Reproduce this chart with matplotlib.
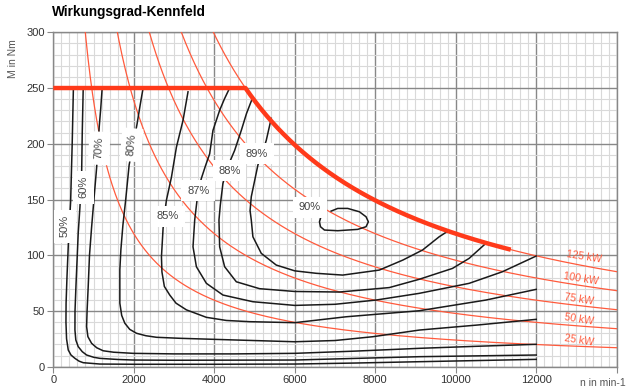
import numpy as np
import matplotlib
matplotlib.use('Agg')
import matplotlib.pyplot as plt

plt.rcParams['font.family'] = ['Liberation Sans', 'DejaVu Sans']

# Leistungshyperbeln (kW)
power_kw = [25, 50, 75, 100, 125]
power_labels = ['25 kW', '50 kW', '75 kW', '100 kW', '125 kW']

# Volllastkennlinie: konstantes Moment bis zum Eckpunkt, dann konstante Leistung
m_max_const = 250      # Nm
p_max_kw = 125         # kW
n_max_end = 11368      # min-1

# Wirkungsgrad-Isolinien
n_50 = [500, 470, 431, 400, 372, 340, 318, 315, 330, 372, 440, 538, 640, 744, 1158, 2000,
        4000, 6000, 7500, 9100, 10500, 12000]
m_50 = [250, 200, 148, 128, 108, 80, 57, 40, 25, 15, 10.5, 7.5, 5, 3.6, 2.4, 2.2,
        2.2, 2.4, 3.3, 4.5, 5.5, 6.6]

n_60 = [744, 720, 704, 680, 662, 620, 563, 540, 538, 560, 620, 720, 828, 1000, 1158, 1600,
        1984, 3000, 6000, 9100, 12000]
m_60 = [250, 210, 172, 155, 143, 120, 72, 50, 33, 24, 18, 13.5, 10.5, 8.5, 7.5, 6.5,
        6, 5.8, 6, 9, 10.5]

n_70 = [1215, 1180, 1141, 1110, 1076, 1010, 952, 900, 868, 840, 828, 860, 952, 1080, 1240,
        1500, 1984, 3000, 4500, 6000, 7500, 9100, 10500, 12000]
m_70 = [250, 232, 215, 196, 178, 150, 125, 100, 72, 50, 36, 27, 21, 17, 14.3,
        13, 12, 11.5, 11.5, 12, 14, 16.5, 18.3, 20.1]

n_80 = [2232, 2160, 2083, 1990, 1885, 1800, 1730, 1680, 1654, 1654, 1700, 1778, 1900, 2068,
        2300, 2564, 3142, 4500, 6000, 7000, 7936, 9100, 10540, 12000]
m_80 = [250, 235, 218, 200, 181, 150, 127, 105, 87, 57, 46, 39, 33.5, 30,
        27.8, 26.4, 25.5, 24, 22.4, 23.5, 26.9, 32.9, 37.4, 42.5]

n_85 = [3348, 3224, 3060, 2936, 2812, 2760, 2728, 2688, 2700, 2760, 2894, 3050, 3308, 3804,
        4300, 4878, 6000, 7276, 9091, 10750, 12000]
m_85 = [246.6, 221, 197, 170, 149.5, 136, 124, 98.6, 85, 72, 64.3, 57, 51, 44.3,
        41.5, 40.4, 39.5, 44.8, 50.2, 59.8, 69.4]

n_87 = [4382, 4250, 4134, 3968, 3886, 3780, 3680, 3600, 3514, 3472, 3556, 3804, 4216, 4960,
        6000, 7000, 8020, 9091, 10334, 11160, 12000]
m_87 = [250, 240, 230, 212, 191, 180, 169, 158, 131.6, 107.6, 89.7, 74.8, 64.3, 58.3,
        55, 56, 59.8, 65.8, 74.8, 85.2, 99.3]

n_88 = [4960, 4800, 4672, 4506, 4400, 4300, 4216, 4150, 4117, 4134, 4258, 4548, 5126, 6000,
        7110, 8350, 9091, 9920, 10334, 10750]
m_88 = [242, 227, 212, 194, 185, 175, 164.5, 145, 131.6, 107.6, 89.7, 76.2, 70, 67.5,
        67, 71, 78.4, 88.2, 97.2, 110.7]

n_89 = [5416, 5292, 5180, 5085, 4920, 4890, 4920, 4960, 5168, 5540, 6000, 6532, 7192, 8102,
        8688, 9176, 9590, 9800]
m_89 = [222.8, 203, 190, 181, 152.5, 140, 131.6, 116.6, 101.7, 91.2, 86, 83.8, 82.2, 86.7,
        95.7, 104.7, 116.6, 121.5]

n_90 = [6904, 7068, 7316, 7606, 7772, 7829, 7772, 7564, 7068, 6738, 6639, 6614, 6639]
m_90 = [139.6, 142, 142, 139, 134.5, 130, 125.6, 123.2, 122, 122.6, 125.6, 130, 133]

eta_lines = [(n_50, m_50), (n_60, m_60), (n_70, m_70), (n_80, m_80), (n_85, m_85),
             (n_87, m_87), (n_88, m_88), (n_89, m_89), (n_90, m_90)]

# Beschriftungen der Isolinien
eta_text = ['50%', '60%', '70%', '80%', '85%', '87%', '88%', '89%', '90%']
eta_text_n = [290, 744, 1141, 1944, 2850, 3600, 4380, 5060, 6380]
eta_text_m = [126, 161, 196, 199, 135, 158, 176, 191, 143]
eta_text_rot = [90, 90, 87, 85, 0, 0, 0, 0, 0]

power_text_n = [13060, 13060, 13060, 13105, 13190]
power_text_m = [23.3, 42.8, 60.8, 78.7, 98.9]


def torque(p_kw, n):
    # Moment in Nm bei Leistung p_kw und Drehzahl n (min-1)
    return p_kw * 1000 / (2 * np.pi * n / 60)


fig = plt.figure(figsize=(6.32, 3.9), dpi=100)
ax = fig.add_axes([0.0843, 0.0597, 0.8915, 0.8575])

ax.set_xlim(0, 14000)
ax.set_ylim(0, 300)
ax.set_xticks(np.arange(0, 14001, 2000))
ax.set_xticklabels([str(v) for v in range(0, 12001, 2000)] + [''])
ax.set_yticks(np.arange(0, 301, 50))
ax.set_xticks(np.arange(0, 14001, 200), minor=True)
ax.set_yticks(np.arange(0, 301, 10), minor=True)
ax.grid(which='minor', color='#d9d9d9', lw=0.8)
ax.grid(which='major', color='#888888', lw=1.0)
ax.set_axisbelow(True)
ax.tick_params(which='minor', length=0)
ax.tick_params(which='major', length=4, color='#888888', labelsize=8, labelcolor='#333333', pad=2)
for s in ax.spines.values():
    s.set_color('#888888')
    s.set_linewidth(1.0)

# Leistungshyperbeln
n_pow = np.linspace(400, 14000, 500)
for p in power_kw:
    ax.plot(n_pow, torque(p, n_pow), color='#ff5a3c', lw=0.9, zorder=3)

for txt, x, y in zip(power_labels, power_text_n, power_text_m):
    ax.text(x, y, txt, color='#ff5a3c', fontsize=7.5, rotation=-9,
            ha='center', va='center', zorder=6)

# Wirkungsgrad-Linien
for n, m in eta_lines:
    ax.plot(n, m, color='#1a1a1a', lw=1.1, zorder=4)

# Volllast
n_corner = p_max_kw * 1000 * 60 / (2 * np.pi * m_max_const)
n_fl = np.linspace(n_corner, n_max_end, 200)
ax.plot(np.r_[0, n_fl], np.r_[m_max_const, torque(p_max_kw, n_fl)],
        color='#ff3a1a', lw=3.2, solid_capstyle='butt', zorder=5)

for txt, x, y, r in zip(eta_text, eta_text_n, eta_text_m, eta_text_rot):
    ax.text(x, y, txt, rotation=r, ha='center', va='center', fontsize=8, color='#444444',
            bbox=dict(facecolor='white', edgecolor='none', pad=4), zorder=10)

fig.text(52 / 632, 1 - 12 / 390, 'Wirkungsgrad-Kennfeld', fontweight='bold', fontsize=9.8,
         ha='left', va='center')
fig.text(13 / 632, 1 - 59 / 390, 'M in Nm', rotation=90, fontsize=7.5, color='#555555',
         ha='center', va='center')
fig.text(580 / 632, 1 - 383 / 390, 'n in min-1', fontsize=7.5, color='#555555',
         ha='left', va='center')

fig.savefig('out.png', dpi=100)
